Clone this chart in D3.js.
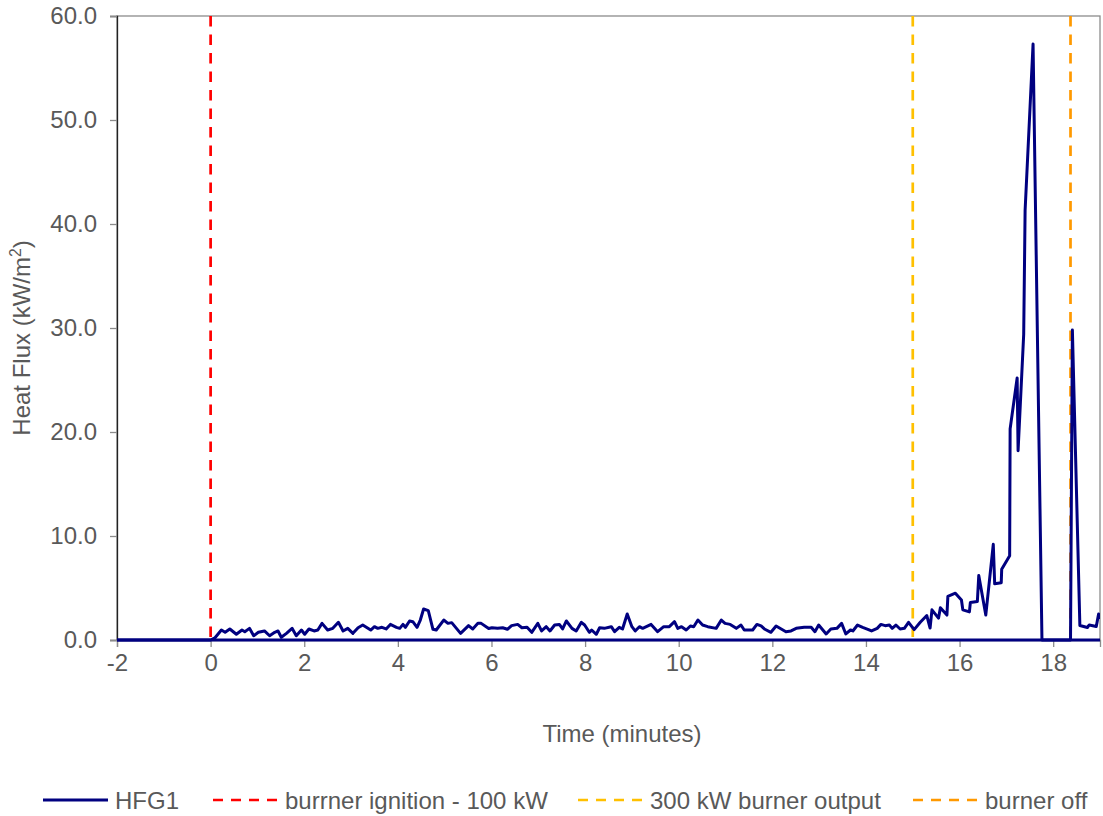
<!DOCTYPE html>
<html>
<head>
<meta charset="utf-8">
<script src="https://cdn.jsdelivr.net/npm/d3@7/dist/d3.min.js"></script>
<style>
  html, body { margin: 0; padding: 0; background: #fff; }
  svg { display: block; font-family: "Liberation Sans", Arial, sans-serif; }
</style>
</head>
<body>
<svg id="chart" width="1103" height="816"></svg>
<script>
// ---- data ----
const hfg1Times = [
  -2, 0, 0.09, 0.23, 0.31, 0.41, 0.55, 0.67, 0.73, 0.83, 0.92, 1.02, 1.15, 1.26, 1.37, 1.44, 1.51, 1.62, 1.74, 1.83, 1.94,
  2.01, 2.10, 2.21, 2.29, 2.38, 2.50, 2.61, 2.73, 2.83, 2.93, 3.04, 3.15, 3.25, 3.42, 3.50, 3.57, 3.66, 3.75, 3.84, 3.97,
  4.04, 4.11, 4.16, 4.25, 4.32, 4.41, 4.48, 4.55, 4.65, 4.75, 4.82, 4.98, 5.07, 5.15, 5.34, 5.51, 5.60, 5.71, 5.78, 5.94,
  6.01, 6.13, 6.24, 6.34, 6.43, 6.56, 6.65, 6.76, 6.86, 6.99, 7.07, 7.17, 7.25, 7.35, 7.45, 7.52, 7.60, 7.72, 7.81, 7.92, 7.99,
  8.09, 8.14, 8.24, 8.31, 8.41, 8.56, 8.63, 8.73, 8.80, 8.90, 9.00, 9.07, 9.16, 9.23, 9.41, 9.55, 9.68, 9.80, 9.91, 9.98,
  10.06, 10.16, 10.25, 10.32, 10.41, 10.51, 10.62, 10.80, 10.91, 10.99, 11.10, 11.23, 11.33, 11.40, 11.58, 11.67, 11.76, 11.83, 11.97,
  12.08, 12.19, 12.29, 12.40, 12.51, 12.68, 12.83, 12.91, 12.99, 13.15, 13.25, 13.38, 13.48, 13.57, 13.67, 13.72, 13.82, 13.93,
  14.04, 14.12, 14.24, 14.32, 14.41, 14.50, 14.56, 14.64, 14.73, 14.82, 14.91,
  15.03, 15.16, 15.30, 15.37, 15.41, 15.55, 15.59, 15.73, 15.75, 15.91, 16.04, 16.07, 16.21, 16.23, 16.38, 16.41, 16.56,
  16.72, 16.75, 16.89, 16.90, 17.07, 17.08, 17.23, 17.25, 17.37, 17.40, 17.57, 17.76, 18.37, 18.41, 18.57, 18.73, 18.77,
  18.92, 18.97, 19.05
];
const hfg1Values = [
  0, 0, 0.2, 0.96, 0.74, 1.06, 0.55, 0.96, 0.8, 1.12, 0.41, 0.74, 0.87, 0.41, 0.74, 0.87, 0.26, 0.64, 1.12, 0.41, 0.96,
  0.55, 1.06, 0.87, 0.96, 1.6, 0.96, 1.12, 1.7, 0.87, 1.12, 0.64, 1.18, 1.44, 0.96, 1.28, 1.12, 1.22, 1.06, 1.5, 1.22,
  1.12, 1.5, 1.22, 1.83, 1.76, 1.22, 1.92, 2.98, 2.82, 1.03, 0.96, 1.92, 1.6, 1.67, 0.64, 1.38, 1.06, 1.6, 1.6, 1.1,
  1.18, 1.12, 1.18, 1.03, 1.38, 1.5, 1.18, 1.22, 0.74, 1.6, 0.87, 1.28, 0.87, 1.44, 1.5, 1.06, 1.83, 1.12, 0.87, 1.7, 1.44,
  0.74, 0.96, 0.55, 1.18, 1.12, 1.28, 0.8, 1.22, 1.06, 2.5, 1.28, 0.87, 1.28, 1.12, 1.5, 0.8, 1.28, 1.28, 1.76, 1.12,
  1.28, 0.96, 1.35, 1.28, 1.92, 1.44, 1.28, 1.12, 1.92, 1.6, 1.5, 1.12, 1.44, 0.96, 0.96, 1.5, 1.35, 1.06, 0.74,
  1.35, 1.06, 0.8, 0.87, 1.12, 1.22, 1.22, 0.8, 1.44, 0.58, 1.06, 1.12, 1.6, 0.58, 0.96, 0.87, 1.44, 1.22,
  1.03, 0.87, 1.12, 1.5, 1.38, 1.44, 1.12, 1.44, 1.06, 1.12, 1.7,
  1.0, 1.7, 2.35, 1.15, 2.9, 2.1, 3.1, 2.4, 4.2, 4.5, 3.85, 2.9, 2.7, 3.6, 3.7, 6.2, 2.4,
  9.2, 5.4, 5.5, 6.8, 8.1, 20.3, 25.2, 18.2, 29.4, 41.3, 57.3, 0, 0, 29.8, 1.4, 1.2, 1.45,
  1.3, 2.5, 1.9
];
// zero-level trace of the HFG1 record along the whole time axis
const baselineTimes = [-2, 19];
const baselineValues = [0, 0];

const eventNames = ["burrner ignition - 100 kW", "300 kW burner output", "burner off"];
const eventTimes = [0, 15, 18.37];
const eventColors = ["#FF0000", "#FFC000", "#FF9900"];

const xTicks = [-2, 0, 2, 4, 6, 8, 10, 12, 14, 16, 18];
const yTicks = [0, 10, 20, 30, 40, 50, 60];

const seriesName = "HFG1";
const seriesColor = "#000080";

// ---- layout ----
const svg = d3.select("#chart");
const plotLeft = 117, plotRight = 1100, plotTop = 16, plotBottom = 640;
const x = d3.scaleLinear().domain([-2, 19]).range([plotLeft, plotRight]);
const y = d3.scaleLinear().domain([0, 60]).range([plotBottom, plotTop]);
const textColor = "#595959";
const fontSize = 24;
const fontFamily = "'Liberation Sans', Arial, sans-serif";

// plot border
svg.append("rect")
  .attr("x", plotLeft).attr("y", plotTop)
  .attr("width", plotRight - plotLeft).attr("height", plotBottom - plotTop)
  .attr("fill", "none").attr("stroke", "#8c8c8c").attr("stroke-width", 1.3);

svg.append("defs").append("clipPath").attr("id", "plotclip")
  .append("rect").attr("x", plotLeft).attr("y", plotTop - 5)
  .attr("width", plotRight - plotLeft).attr("height", plotBottom - plotTop + 10);

// y axis
const yAxis = svg.append("g").attr("transform", `translate(${plotLeft},0)`)
  .call(d3.axisLeft(y).tickValues(yTicks).tickFormat(d3.format(".1f")).tickSize(7).tickPadding(13));
yAxis.select(".domain").attr("stroke", "#222").attr("stroke-width", 1.3);
yAxis.selectAll(".tick line").attr("stroke", "#8c8c8c").attr("stroke-width", 1.3);
yAxis.selectAll(".tick text").attr("fill", textColor).style("font-size", fontSize + "px")
  .style("font-family", fontFamily);

// x axis
const xAxis = svg.append("g").attr("transform", `translate(0,${plotBottom})`)
  .call(d3.axisBottom(x).tickValues(xTicks).tickFormat(d => String(d)).tickSize(7).tickPadding(7));
xAxis.select(".domain").attr("stroke", "#8c8c8c").attr("stroke-width", 1.3);
xAxis.selectAll(".tick line").attr("stroke", "#8c8c8c").attr("stroke-width", 1.3);
xAxis.selectAll(".tick text").attr("fill", textColor).style("font-size", fontSize + "px")
  .style("font-family", fontFamily);

// event lines
svg.append("g").selectAll("line").data(eventTimes).join("line")
  .attr("x1", d => x(d)).attr("x2", d => x(d))
  .attr("y1", y(60)).attr("y2", y(0))
  .attr("stroke", (d, i) => eventColors[i])
  .attr("stroke-width", 2.7)
  .attr("stroke-dasharray", "10.5,8");

// series
const line = d3.line().x(d => x(d[0])).y(d => y(d[1]));
const g = svg.append("g").attr("clip-path", "url(#plotclip)");
g.append("path")
  .datum(d3.zip(baselineTimes, baselineValues))
  .attr("d", line).attr("fill", "none")
  .attr("stroke", seriesColor).attr("stroke-width", 3);
g.append("path")
  .datum(d3.zip(hfg1Times, hfg1Values))
  .attr("d", line).attr("fill", "none")
  .attr("stroke", seriesColor).attr("stroke-width", 3)
  .attr("stroke-linejoin", "round");

// axis titles
svg.append("text").attr("x", 622).attr("y", 742).attr("text-anchor", "middle")
  .attr("fill", textColor).style("font-size", fontSize + "px").text("Time (minutes)");
const yt = svg.append("text").attr("transform", "translate(30,338) rotate(-90)")
  .attr("text-anchor", "middle").attr("fill", textColor).style("font-size", fontSize + "px");
yt.append("tspan").text("Heat Flux (kW/m");
yt.append("tspan").attr("dy", -9).style("font-size", (fontSize * 0.65) + "px").text("2");
yt.append("tspan").attr("dy", 9).text(")");

// legend
const legendItems = [
  { name: seriesName, color: seriesColor, dashed: false, x0: 43 },
  { name: eventNames[0], color: eventColors[0], dashed: true, x0: 213 },
  { name: eventNames[1], color: eventColors[1], dashed: true, x0: 578 },
  { name: eventNames[2], color: eventColors[2], dashed: true, x0: 913 }
];
const ly = 800;
const lg = svg.append("g");
legendItems.forEach(it => {
  lg.append("line").attr("x1", it.x0).attr("x2", it.x0 + 65).attr("y1", ly).attr("y2", ly)
    .attr("stroke", it.color).attr("stroke-width", it.dashed ? 2.7 : 3)
    .attr("stroke-dasharray", it.dashed ? "10,8" : null);
  lg.append("text").attr("x", it.x0 + 72).attr("y", ly + 9).attr("fill", textColor)
    .style("font-size", fontSize + "px").text(it.name);
});
</script>
</body>
</html>
